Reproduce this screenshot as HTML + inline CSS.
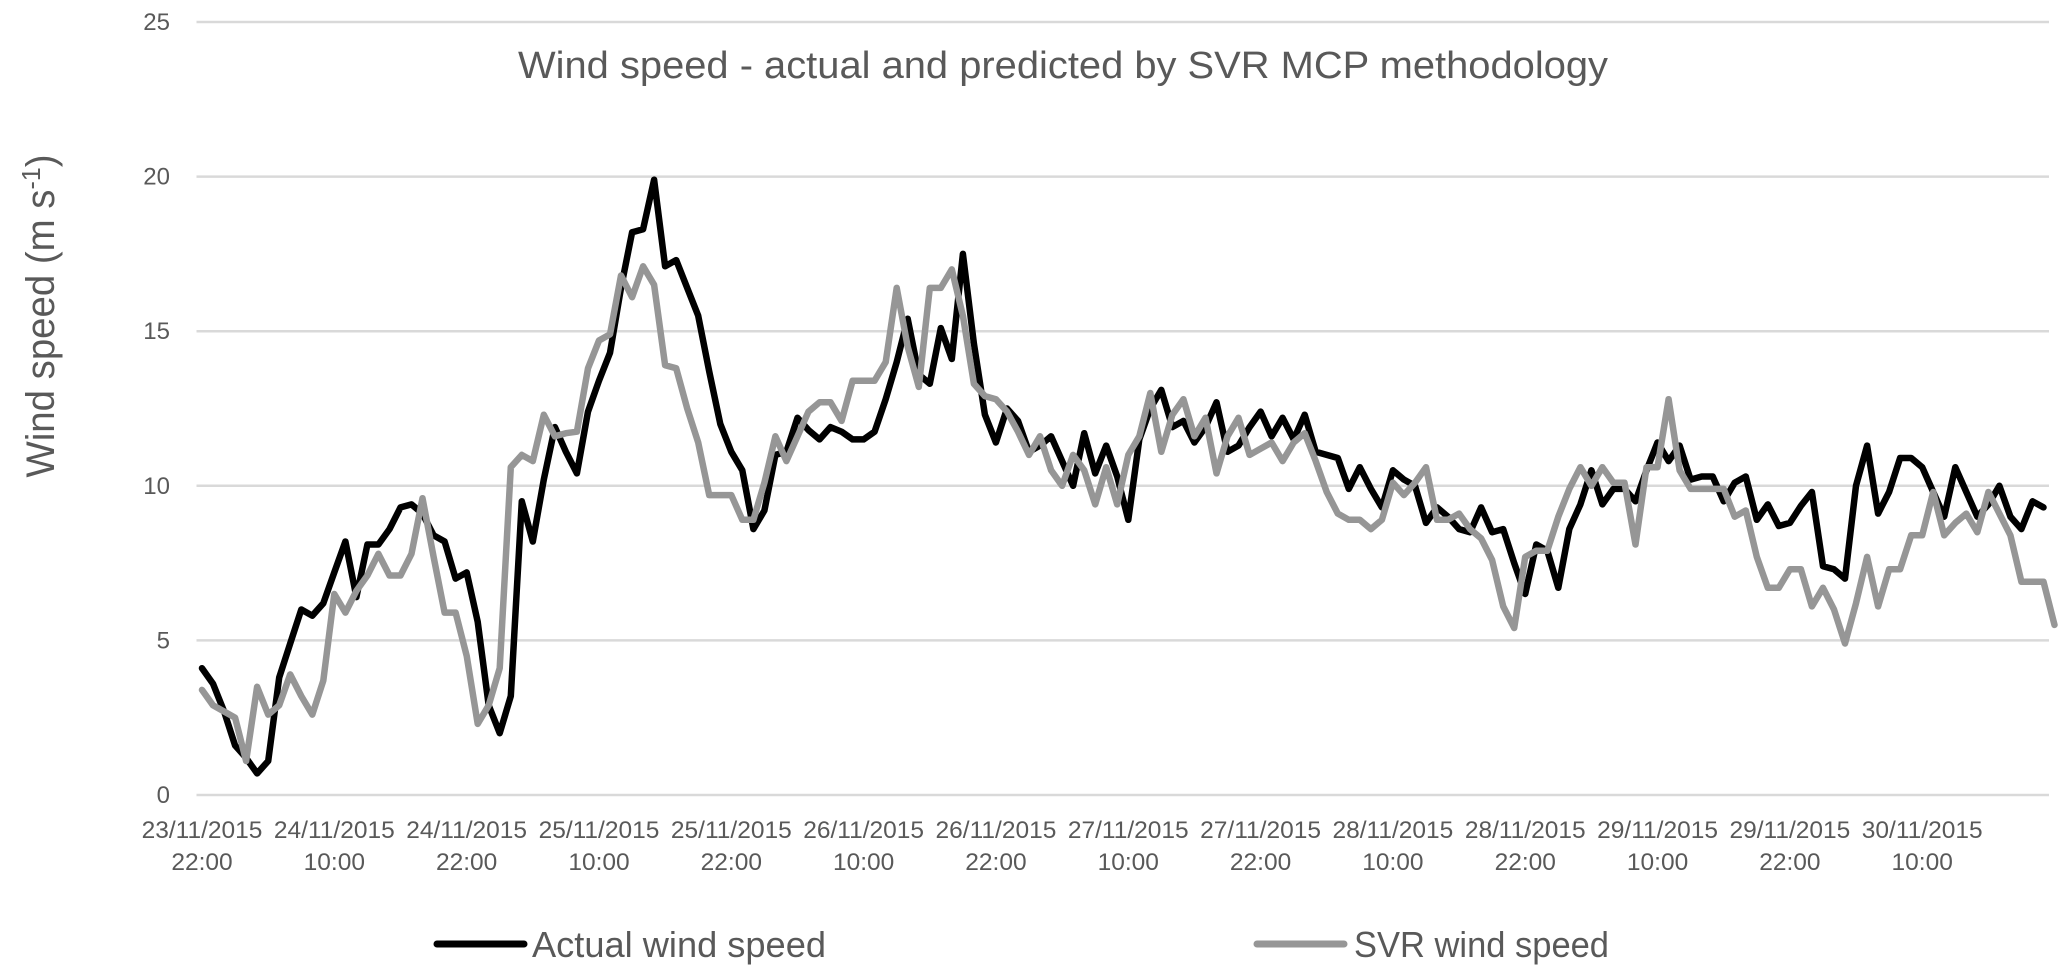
<!DOCTYPE html>
<html><head><meta charset="utf-8"><style>
html,body{margin:0;padding:0;background:#fff;}
svg{display:block;font-family:"Liberation Sans",sans-serif;}
</style></head><body>
<svg id="chart" width="2067" height="975" viewBox="0 0 2067 975" xmlns="http://www.w3.org/2000/svg">
<text x="1063" y="78" text-anchor="middle" font-size="38" fill="#595959" textLength="1090" lengthAdjust="spacingAndGlyphs">Wind speed - actual and predicted by SVR MCP methodology</text>
<text transform="translate(54,316) rotate(-90)" text-anchor="middle" font-size="40" fill="#595959" textLength="323" lengthAdjust="spacingAndGlyphs">Wind speed (m s<tspan dy="-14" font-size="26">-1</tspan><tspan dy="14">)</tspan></text>
<g id="grid"></g>
<g id="yticks"></g>
<g id="xticks"></g>
<g id="series"></g>
<g>
<line x1="437" y1="944" x2="524" y2="944" stroke="#000" stroke-width="7" stroke-linecap="round"/>
<text x="532" y="957" font-size="36" fill="#595959" textLength="294" lengthAdjust="spacingAndGlyphs">Actual wind speed</text>
<line x1="1257" y1="944" x2="1344" y2="944" stroke="#969696" stroke-width="7" stroke-linecap="round"/>
<text x="1354" y="957" font-size="36" fill="#595959" textLength="255" lengthAdjust="spacingAndGlyphs">SVR wind speed</text>
</g>
</svg>
<script>
const actual = [4.1,3.6,2.7,1.6,1.2,0.7,1.1,3.8,4.9,6.0,5.8,6.2,7.2,8.2,6.4,8.1,8.1,8.6,9.3,9.4,9.1,8.4,8.2,7.0,7.2,5.6,2.9,2.0,3.2,9.5,8.2,10.2,11.9,11.1,10.4,12.4,13.4,14.3,16.4,18.2,18.3,19.9,17.1,17.3,16.4,15.5,13.7,12.0,11.1,10.5,8.6,9.2,11.0,11.1,12.2,11.8,11.5,11.9,11.75,11.5,11.5,11.75,12.8,14.0,15.4,13.6,13.3,15.1,14.1,17.5,14.6,12.3,11.4,12.5,12.1,11.1,11.3,11.6,10.8,10.0,11.7,10.4,11.3,10.3,8.9,11.5,12.5,13.1,11.9,12.1,11.4,11.9,12.7,11.1,11.3,11.9,12.4,11.6,12.2,11.5,12.3,11.1,11.0,10.9,9.9,10.6,9.9,9.3,10.5,10.2,10.0,8.8,9.3,9.0,8.6,8.5,9.3,8.5,8.6,7.5,6.5,8.1,7.9,6.7,8.6,9.4,10.5,9.4,9.9,9.9,9.5,10.5,11.4,10.8,11.3,10.2,10.3,10.3,9.5,10.1,10.3,8.9,9.4,8.7,8.8,9.35,9.8,7.4,7.3,7.0,10.0,11.3,9.1,9.8,10.9,10.9,10.6,9.8,9.0,10.6,9.8,9.0,9.4,10.0,9.0,8.6,9.5,9.3];
const svr = [3.4,2.9,2.7,2.5,1.1,3.5,2.6,2.9,3.9,3.2,2.6,3.7,6.5,5.9,6.6,7.1,7.8,7.1,7.1,7.8,9.6,7.7,5.9,5.9,4.5,2.3,2.9,4.1,10.6,11.0,10.8,12.3,11.6,11.7,11.75,13.8,14.7,14.9,16.8,16.1,17.1,16.5,13.9,13.8,12.5,11.4,9.7,9.7,9.7,8.9,8.9,10.1,11.6,10.8,11.6,12.4,12.7,12.7,12.1,13.4,13.4,13.4,14.0,16.4,14.5,13.2,16.4,16.4,17.0,15.5,13.3,12.9,12.8,12.4,11.75,11.0,11.6,10.5,10.0,11.0,10.5,9.4,10.6,9.4,11.0,11.6,13.0,11.1,12.3,12.8,11.6,12.2,10.4,11.6,12.2,11.0,11.2,11.4,10.8,11.4,11.7,10.8,9.8,9.1,8.9,8.9,8.6,8.9,10.1,9.7,10.1,10.6,8.9,8.9,9.1,8.6,8.3,7.6,6.1,5.4,7.7,7.9,7.9,9.0,9.9,10.6,10.0,10.6,10.1,10.1,8.1,10.6,10.6,12.8,10.5,9.9,9.9,9.9,9.9,9.0,9.2,7.7,6.7,6.7,7.3,7.3,6.1,6.7,6.0,4.9,6.2,7.7,6.1,7.3,7.3,8.4,8.4,9.8,8.4,8.8,9.1,8.5,9.8,9.1,8.4,6.9,6.9,6.9,5.5];
const yTicks = [0,5,10,15,20,25];
const xLabelIdx = [0,12,24,36,48,60,72,84,96,108,120,132,144,156];
const xLabelDate = ["23/11/2015","24/11/2015","24/11/2015","25/11/2015","25/11/2015","26/11/2015","26/11/2015","27/11/2015","27/11/2015","28/11/2015","28/11/2015","29/11/2015","29/11/2015","30/11/2015"];
const xLabelTime = ["22:00","10:00","22:00","10:00","22:00","10:00","22:00","10:00","22:00","10:00","22:00","10:00","22:00","10:00"];

const NS = "http://www.w3.org/2000/svg";
const PL = 196.5, PR = 2049, PT = 22, PB = 795, YMAX = 25, N = 168;
const bw = (PR - PL) / N;
function xOf(i){ return PL + (i + 0.5) * bw; }
function yOf(v){ return PB - (v / YMAX) * (PB - PT); }
function mk(tag, attrs){ const e = document.createElementNS(NS, tag); for (const k in attrs) e.setAttribute(k, attrs[k]); return e; }

const grid = document.getElementById('grid');
const yt = document.getElementById('yticks');
yTicks.forEach(v => {
  const l = mk('line', {x1: PL, x2: PR, y1: yOf(v), y2: yOf(v), stroke: '#d9d9d9', 'stroke-width': 2.5});
  
  
  grid.appendChild(l);
  const t = mk('text', {x: 170, y: yOf(v) + 8, 'text-anchor': 'end', 'font-size': 24, fill: '#595959'});
  
  
  t.textContent = String(v);
  yt.appendChild(t);
});

const xt = document.getElementById('xticks');
xLabelIdx.forEach((idx, k) => {
  const t = mk('text', {x: xOf(idx), y: 838, 'text-anchor': 'middle', 'font-size': 24.5, fill: '#595959'});
  
  
  t.textContent = xLabelDate[k];
  xt.appendChild(t);
  const t2 = mk('text', {x: xOf(idx), y: 870, 'text-anchor': 'middle', 'font-size': 24.5, fill: '#595959'});
  
  
  t2.textContent = xLabelTime[k];
  xt.appendChild(t2);
});

function pts(arr){ return arr.map((v, i) => xOf(i).toFixed(1) + ',' + yOf(v).toFixed(1)).join(' '); }
const sg = document.getElementById('series');
const p1 = mk('polyline', {points: pts(actual), fill: 'none', stroke: '#000', 'stroke-width': 6.5, 'stroke-linejoin': 'round', 'stroke-linecap': 'round'});


sg.appendChild(p1);
const p2 = mk('polyline', {points: pts(svr), fill: 'none', stroke: '#969696', 'stroke-width': 6.5, 'stroke-linejoin': 'round', 'stroke-linecap': 'round'});


sg.appendChild(p2);
</script>
</body></html>
